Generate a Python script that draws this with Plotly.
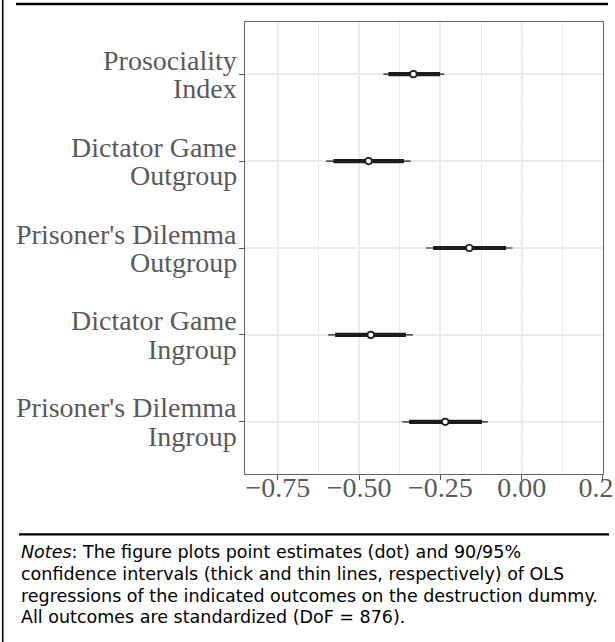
import plotly.graph_objects as go

# ---------------- data ----------------
categories = ["Prosociality Index", "Dictator Game Outgroup", "Prisoner's Dilemma Outgroup",
              "Dictator Game Ingroup", "Prisoner's Dilemma Ingroup"]
label_line1 = ["Prosociality", "Dictator Game", "Prisoner's Dilemma", "Dictator Game", "Prisoner's Dilemma"]
label_line2 = ["Index", "Outgroup", "Outgroup", "Ingroup", "Ingroup"]
estimate = [-0.333, -0.471, -0.161, -0.464, -0.235]
ci90_low = [-0.410, -0.579, -0.272, -0.574, -0.346]
ci90_high = [-0.251, -0.362, -0.048, -0.356, -0.122]
ci95_low = [-0.425, -0.602, -0.294, -0.595, -0.367]
ci95_high = [-0.238, -0.341, -0.028, -0.334, -0.104]
ref_value = 0.0
x_tick_values = [-0.75, -0.50, -0.25, 0.00, 0.25]
x_tick_labels = ["\u22120.75", "\u22120.50", "\u22120.25", "0.00", "0.25"]
x_minor_values = [-0.625, -0.375, -0.125, 0.125]
notes_lines = [
    "<i>Notes</i>: The figure plots point estimates (dot) and 90/95%",
    "confidence intervals (thick and thin lines, respectively) of OLS",
    "regressions of the indicated outcomes on the destruction dummy.",
    "All outcomes are standardized (DoF = 876).",
]

# ---------------- geometry helpers ----------------
W_FIG, H_FIG = 615, 642
ML, MR, MT, MB = 245, 12, 22, 168
PL, PR, PT, PB = ML, W_FIG - MR, MT, H_FIG - MB
PW, PH = PR - PL, PB - PT


def px_x(px):
    return (px - PL) / PW


def px_y(py):
    return (PB - py) / PH


def seg(lo, hi, cats):
    xs, ys = [], []
    for a, b, c in zip(lo, hi, cats):
        xs += [a, b, None]
        ys += [c, c, None]
    return xs, ys


DARK = "#1c1c1c"
fig = go.Figure()

x95, y95 = seg(ci95_low, ci95_high, categories)
fig.add_trace(go.Scatter(x=x95, y=y95, mode="lines", line=dict(color=DARK, width=1.2),
                         hoverinfo="skip", showlegend=False))
x90, y90 = seg(ci90_low, ci90_high, categories)
fig.add_trace(go.Scatter(x=x90, y=y90, mode="lines", line=dict(color=DARK, width=4.2),
                         hoverinfo="skip", showlegend=False))
fig.add_trace(go.Scatter(x=estimate, y=categories, mode="markers",
                         marker=dict(size=6.5, color="white", line=dict(color=DARK, width=1.6)),
                         showlegend=False))

fig.add_vline(x=ref_value, line=dict(color="#a3a3a3", width=1.5, dash="6px,6px"), layer="below")

TICKFONT = dict(family="Liberation Serif", size=28, color="#5a5a5a")

# y labels as two-line annotations
for cat, l1, l2 in zip(categories, label_line1, label_line2):
    fig.add_annotation(x=0, xref="paper", y=cat, yref="y", text=l1, showarrow=False,
                       xanchor="right", yanchor="middle", xshift=-6, yshift=14,
                       font=TICKFONT)
    fig.add_annotation(x=0, xref="paper", y=cat, yref="y", text=l2, showarrow=False,
                       xanchor="right", yanchor="middle", xshift=-6, yshift=-14.5,
                       font=TICKFONT)

# notes
note_baselines = [558.7, 580.3, 602.0, 623.2]
for line, bl in zip(notes_lines, note_baselines):
    fig.add_annotation(x=px_x(19), xref="paper", y=px_y(bl - 6.3), yref="paper", text=line,
                       showarrow=False, xanchor="left", yanchor="middle", align="left",
                       font=dict(family="DejaVu Sans", size=17.5, color="black"))

# decorative rules
fig.add_shape(type="line", xref="paper", yref="paper", x0=px_x(16), x1=px_x(608),
              y0=px_y(4), y1=px_y(4), line=dict(color="black", width=2.7))
fig.add_shape(type="line", xref="paper", yref="paper", x0=px_x(19), x1=px_x(609),
              y0=px_y(534.3), y1=px_y(534.3), line=dict(color="black", width=2.3))
fig.add_shape(type="line", xref="paper", yref="paper", x0=px_x(2.7), x1=px_x(2.7),
              y0=px_y(0), y1=px_y(642), line=dict(color="black", width=1.6))

fig.update_layout(
    width=W_FIG, height=H_FIG,
    margin=dict(l=ML, r=MR, t=MT, b=MB, pad=0, autoexpand=False),
    paper_bgcolor="white", plot_bgcolor="white",
    showlegend=False,
    xaxis=dict(range=[-0.8510, 0.2502], tickvals=x_tick_values, ticktext=x_tick_labels,
               tickfont=TICKFONT, showgrid=True, gridcolor="#ebebeb", gridwidth=2,
               minor=dict(tickvals=x_minor_values, showgrid=True, gridcolor="#ebebeb", gridwidth=1),
               zeroline=False, ticks="outside", ticklen=5, tickcolor="#555", tickwidth=1,
               ticklabelstandoff=-17, ticklabeloverflow="allow", automargin=False,
               showline=True, mirror=True, linecolor="#666", linewidth=1),
    yaxis=dict(type="category", categoryorder="array", categoryarray=categories[::-1],
               range=[-0.6, len(categories) - 0.4], showticklabels=False, automargin=False,
               showgrid=True, gridcolor="#ebebeb", gridwidth=2, zeroline=False,
               ticks="outside", ticklen=5, tickcolor="#555", tickwidth=1,
               showline=True, mirror=True, linecolor="#666", linewidth=1),
)

fig.write_html("out.html", config={"displayModeBar": False},
               post_script="document.body.style.margin='0px';")
